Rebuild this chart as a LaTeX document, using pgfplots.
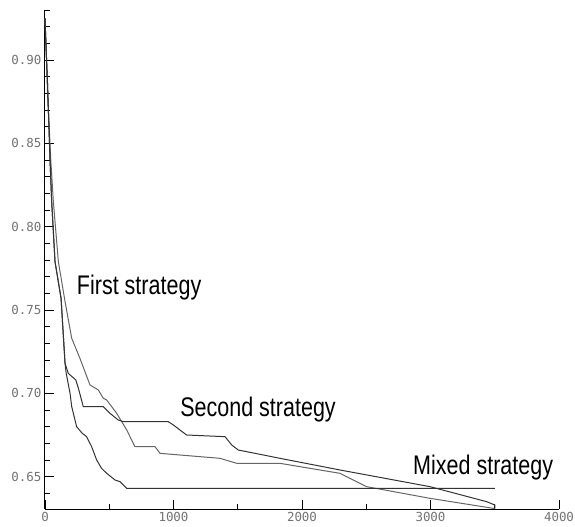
\documentclass[border=0pt]{standalone}
\usepackage{fontspec}
\setmainfont{Liberation Sans}
\newfontfamily\tickfont{DejaVu Sans Mono}
\newfontfamily\labfont{Liberation Sans}[FakeStretch=0.8]
\usepackage{pgfplots}
\pgfplotsset{compat=1.18}

\begin{document}
\begin{tikzpicture}
\begin{axis}[
    at={(0,0)}, anchor=south west,
    scale only axis,
    width=514bp, height=499bp,
    xmin=0, xmax=4000,
    ymin=0.6306, ymax=0.930,
    axis lines*=left,
    axis line style={line width=1bp, black},
    tick align=inside,
    major tick length=9bp, minor tick length=5bp,
    tick style={black, line width=0.8bp},
    xtick={0,1000,2000,3000,4000},
    minor xtick={500,1500,2500,3500},
    ytick={0.65,0.70,0.75,0.80,0.85,0.90},
    minor ytick={0.64,0.66,0.67,0.68,0.69,0.71,0.72,0.73,0.74,0.76,0.77,0.78,0.79,0.81,0.82,0.83,0.84,0.86,0.87,0.88,0.89,0.91,0.92,0.93},
    scaled ticks=false,
    /pgf/number format/assume math mode=true,
    ticklabel style={font=\tickfont\fontsize{12.5}{13}\selectfont, text=black!55},
    yticklabel style={/pgf/number format/.cd, fixed, fixed zerofill, precision=2},
    xticklabel style={/pgf/number format/1000 sep={}},
    clip=false,
]
% first curve (lighter)
\addplot[black!60, line width=1bp] coordinates {
    (0,0.925) (20,0.88) (45,0.84) (65,0.815) (104,0.779) (156,0.755)
    (208,0.733) (272,0.721) (350,0.705) (415,0.702) (454,0.697) (480,0.696)
    (558,0.688) (636,0.678) (700,0.668) (856,0.668) (895,0.664) (1362,0.661)
    (1492,0.658) (1829,0.658) (2296,0.652) (2503,0.644) (2996,0.637)
    (3488,0.631) (3500,0.6308)
};
% second curve
\addplot[black!80, line width=1bp] coordinates {
    (0,0.925) (20,0.885) (39,0.84) (52,0.815) (78,0.779) (125,0.757)
    (156,0.718) (181,0.712) (240,0.708) (260,0.703) (298,0.692) (454,0.692)
    (506,0.688) (570,0.684) (609,0.683) (959,0.683) (999,0.681) (1102,0.675)
    (1401,0.674) (1453,0.669) (1504,0.666) (1829,0.661) (2296,0.654)
    (2996,0.644) (3437,0.635) (3500,0.633) (3500,0.6308)
};
% third curve
\addplot[black!80, line width=1bp] coordinates {
    (0,0.925) (20,0.885) (39,0.84) (52,0.815) (78,0.779) (125,0.757)
    (156,0.718) (165,0.712) (195,0.700) (208,0.692) (246,0.680) (290,0.676)
    (324,0.674) (363,0.668) (402,0.660) (440,0.655) (480,0.652) (545,0.648)
    (584,0.647) (636,0.643) (3500,0.643)
};
\node[anchor=base west, inner sep=0, font=\labfont\fontsize{27}{30}\selectfont]
    at (axis cs:247,0.7594) {First strategy};
\node[anchor=base west, inner sep=0, font=\labfont\fontsize{27}{30}\selectfont]
    at (axis cs:1051,0.6858) {Second strategy};
\node[anchor=base west, inner sep=0, font=\labfont\fontsize{27}{30}\selectfont]
    at (axis cs:2864,0.6516) {Mixed strategy};
\end{axis}
\pgfresetboundingbox
\path[use as bounding box] (-45bp,-18bp) rectangle (530bp,509bp);
\end{tikzpicture}
\end{document}
